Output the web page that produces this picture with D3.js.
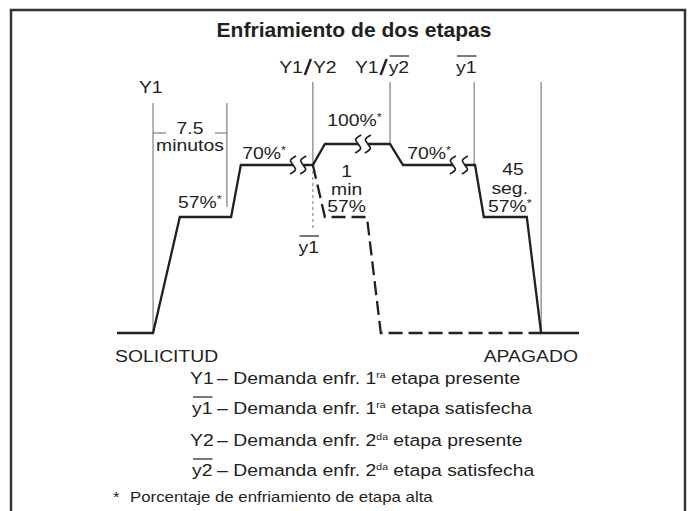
<!DOCTYPE html>
<html>
<head>
<meta charset="utf-8">
<script src="https://cdn.jsdelivr.net/npm/d3@7"></script>
<style>
  body { margin: 0; background: #fff; }
  text { font-family: "Liberation Sans", Arial, Helvetica, sans-serif; fill: #231f20; }
</style>
</head>
<body>
<svg id="chart" width="691" height="511"></svg>
<script>
// ---- data (schematic time 0..100, cooling level in %) ----
const stageLevels = [0, 57, 70, 100];
const solidRuns = [
  [[0, 0], [7.8, 0], [13.6, 57], [24.7, 57], [26.8, 70], [38.1, 70]],
  [[40.3, 70], [42.4, 70], [45.0, 100], [52.2, 100]],
  [[54.3, 100], [59.1, 100], [61.9, 70], [72.7, 70]],
  [[75.3, 70], [77.5, 70], [79.4, 57], [88.7, 57], [91.8, 0], [100, 0]]
];
const dashedRun = [[42.4, 70], [45.0, 57], [54.1, 57], [57.1, 0], [91.8, 0]];
const breakMarks = [[38.1, 70], [40.3, 70], [52.2, 100], [54.3, 100], [72.7, 70], [75.3, 70]];
const eventTimes = [7.8, 42.4, 59.1, 77.3, 91.8];
const eventLevels = [0, 70, 100, 70, 0];
const bracketTimes = [7.8, 23.8];
const legendSymbols = ["Y1", "y1", "Y2", "y2"];
const legendOrder = ["1", "1", "2", "2"];
const legendSup = ["ra", "ra", "da", "da"];
const legendEnd = ["etapa presente", "etapa satisfecha", "etapa presente", "etapa satisfecha"];

const W = 691, H = 511;
const SX = 1.16;          // text in the source is set wide
const FS = 16.7;

const svg = d3.select("#chart");

const x = d3.scaleLinear().domain([0, 100]).range([117, 579]);
const y = d3.scaleLinear().domain(stageLevels).range([333, 217, 165, 144]);

const line = d3.line().x(d => x(d[0])).y(d => y(d[1]));

// frame
svg.append("path")
  .attr("d", `M11,${H} L11,10 L685,10 L685,${H}`)
  .attr("fill", "none")
  .attr("stroke", "#333")
  .attr("stroke-width", 2.5);

function txt(px, py, anchor, size, sx) {
  return svg.append("text")
    .attr("transform", `translate(${px},${py}) scale(${sx || SX},1)`)
    .attr("text-anchor", anchor || "start")
    .style("font-size", (size || FS) + "px");
}

function overline(t, px, py, sx) {
  const b = t.node().getBBox();
  const s = sx || SX;
  svg.append("line")
    .attr("x1", px + b.x * s + 1).attr("x2", px + (b.x + b.width) * s)
    .attr("y1", py - 17).attr("y2", py - 17)
    .attr("stroke", "#231f20").attr("stroke-width", 1.2);
}

function starLabel(px, py, s, anchor) {
  const t = txt(px, py, anchor);
  t.append("tspan").text(s);
  t.append("tspan").style("font-size", "11px").attr("dy", -5).text("*");
  return t;
}

// title
txt(354, 37, "middle", 19.5, 1.08).style("font-weight", "bold").text("Enfriamiento de dos etapas");

// thin event lines
const tops = [103, 82, 82, 82, 82];
eventTimes.forEach((t, i) => {
  svg.append("line")
    .attr("x1", x(t)).attr("x2", x(t))
    .attr("y1", tops[i]).attr("y2", y(eventLevels[i]))
    .attr("stroke", "#666").attr("stroke-width", 1);
});

// 7.5 minutos bracket
svg.append("line")
  .attr("x1", x(bracketTimes[1])).attr("x2", x(bracketTimes[1]))
  .attr("y1", 103).attr("y2", y(57) - 10)
  .attr("stroke", "#666").attr("stroke-width", 1);
svg.append("line")
  .attr("x1", x(bracketTimes[0])).attr("x2", x(bracketTimes[0]) + 13)
  .attr("y1", 133).attr("y2", 133).attr("stroke", "#666");
svg.append("line")
  .attr("x1", x(bracketTimes[1]) - 12).attr("x2", x(bracketTimes[1]))
  .attr("y1", 133).attr("y2", 133).attr("stroke", "#666");
const mid = (x(bracketTimes[0]) + x(bracketTimes[1])) / 2;
txt(mid, 134, "middle").text("7.5");
txt(mid, 151, "middle").text("minutos");

// dotted y1 drop under Y1/Y2
svg.append("line")
  .attr("x1", x(eventTimes[1])).attr("x2", x(eventTimes[1]))
  .attr("y1", y(70)).attr("y2", 231)
  .attr("stroke", "#777").attr("stroke-width", 1)
  .attr("stroke-dasharray", "3,3");

// main sequence
svg.selectAll(".run")
  .data(solidRuns)
  .join("path")
  .attr("class", "run")
  .attr("d", line)
  .attr("fill", "none")
  .attr("stroke", "#231f20")
  .attr("stroke-width", 2.3)
  .attr("stroke-linejoin", "miter");

svg.append("path")
  .datum(dashedRun)
  .attr("d", line)
  .attr("fill", "none")
  .attr("stroke", "#231f20")
  .attr("stroke-width", 2.3)
  .attr("stroke-dasharray", "14,6");

// break marks
const wave = d3.line().curve(d3.curveCatmullRom);
breakMarks.forEach(d => {
  const cx = x(d[0]), cy = y(d[1]);
  svg.append("path")
    .attr("d", wave([[cx + 3, cy - 9], [cx - 2.5, cy - 4.5], [cx, cy], [cx + 2.5, cy + 4.5], [cx - 3, cy + 9]]))
    .attr("fill", "none").attr("stroke", "#231f20").attr("stroke-width", 1.7);
});

// plateau labels
starLabel(x(13.2), y(57) - 9, "57%");
starLabel(x(27.1), y(70) - 6, "70%");
starLabel(x(45.5), y(100) - 18, "100%");
starLabel(x(62.8), y(70) - 6, "70%");
starLabel(x(80.3), y(57) - 5, "57%");
txt(x(85.7), 175, "middle").text("45");
txt(x(85.0), 194, "middle").text("seg.");
txt(x(49.7), 177, "middle").text("1");
txt(x(49.7), 195, "middle").text("min");
txt(x(49.7), 212, "middle").text("57%");

// event labels
txt(x(7.3), 93, "middle").text("Y1");
function pair(px, a, b, bar) {
  txt(px - 4, 73, "end").text(a);
  svg.append("line")
    .attr("x1", px - 2).attr("x2", px + 4)
    .attr("y1", 75).attr("y2", 59)
    .attr("stroke", "#231f20").attr("stroke-width", 2.4);
  const t2 = txt(px + 6, 73, "start").text(b);
  if (bar) overline(t2, px + 6, 73);
}
pair(x(41.1), "Y1", "Y2", false);
pair(x(57.5), "Y1", "y2", true);
const ty1 = txt(x(75.6), 73, "middle").text("y1");
overline(ty1, x(75.6), 73);
const ty1b = txt(x(41.5), 253, "middle").text("y1");
overline(ty1b, x(41.5), 253);

txt(115, 362, "start").text("SOLICITUD");
txt(578, 362, "end").text("APAGADO");

// legend
const legendY = [384, 414, 446, 476];
legendSymbols.forEach((s, i) => {
  const sx0 = s[0] === "y" ? 192 : 190;
  const t = txt(sx0, legendY[i], "start").text(s);
  if (s[0] === "y") overline(t, sx0, legendY[i]);
  const r = txt(217, legendY[i], "start");
  r.append("tspan").text("\u2013 Demanda enfr. " + legendOrder[i]);
  r.append("tspan").style("font-size", "9px").attr("dy", -6).text(legendSup[i]);
  r.append("tspan").attr("dy", 6).text(" " + legendEnd[i]);
});

txt(113, 502, "start", 14.5).text("*");
txt(130, 502, "start", 14.5).text("Porcentaje de enfriamiento de etapa alta");
</script>
</body>
</html>
